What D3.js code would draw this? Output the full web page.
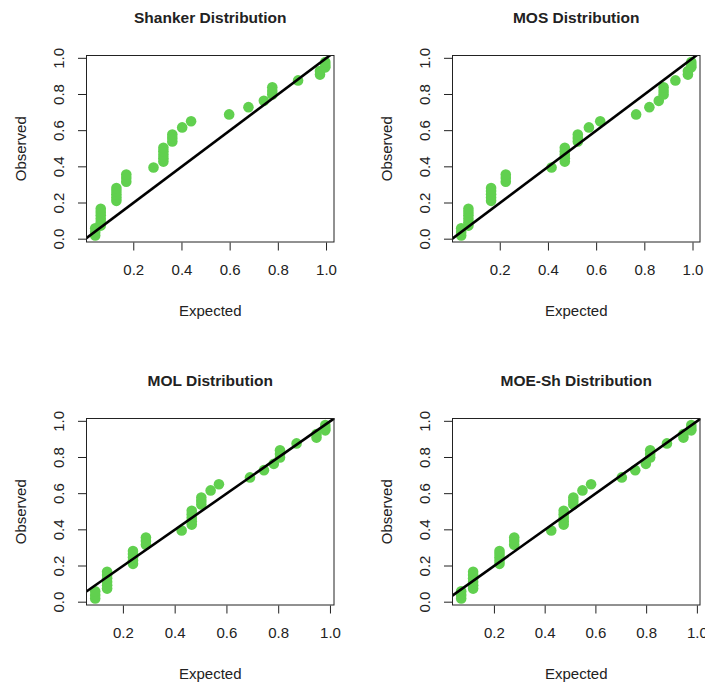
<!DOCTYPE html>
<html>
<head>
<meta charset="utf-8">
<script src="https://cdn.jsdelivr.net/npm/d3@7"></script>
<style>
  html, body { margin: 0; padding: 0; background: #fff; }
  svg { display: block; font-family: "Liberation Sans", Arial, sans-serif; }
</style>
</head>
<body>
<svg id="chart" width="705" height="687"></svg>
<script>
// Observed (empirical) probabilities, shared by all panels
const observed = [
  0.020, 0.040, 0.060,
  0.075, 0.094, 0.113, 0.132, 0.150, 0.168,
  0.212, 0.230, 0.248, 0.266, 0.283,
  0.318, 0.338, 0.357,
  0.396,
  0.429, 0.448, 0.467, 0.486, 0.505,
  0.540, 0.560, 0.579,
  0.618,
  0.652,
  0.690,
  0.730,
  0.765,
  0.800, 0.820, 0.840,
  0.878,
  0.910, 0.930,
  0.950, 0.965, 0.980
];

// Expected probabilities per distribution (same order as observed)
const expectedShanker = [
  0.042, 0.042, 0.042,
  0.065, 0.065, 0.065, 0.065, 0.065, 0.065,
  0.130, 0.130, 0.130, 0.130, 0.130,
  0.171, 0.171, 0.171,
  0.284,
  0.325, 0.325, 0.325, 0.325, 0.325,
  0.362, 0.362, 0.362,
  0.403,
  0.440,
  0.598,
  0.678,
  0.742,
  0.777, 0.777, 0.777,
  0.884,
  0.975, 0.975,
  0.997, 0.997, 0.997
];
const expectedMOS = [
  0.040, 0.040, 0.040,
  0.070, 0.070, 0.070, 0.070, 0.070, 0.070,
  0.164, 0.164, 0.164, 0.164, 0.164,
  0.225, 0.225, 0.225,
  0.415,
  0.470, 0.470, 0.470, 0.470, 0.470,
  0.524, 0.524, 0.524,
  0.570,
  0.617,
  0.766,
  0.821,
  0.860,
  0.880, 0.880, 0.880,
  0.929,
  0.981, 0.981,
  0.995, 0.995, 0.995
];
const expectedMOL = [
  0.093, 0.093, 0.093,
  0.139, 0.139, 0.139, 0.139, 0.139, 0.139,
  0.239, 0.239, 0.239, 0.239, 0.239,
  0.289, 0.289, 0.289,
  0.427,
  0.466, 0.466, 0.466, 0.466, 0.466,
  0.503, 0.503, 0.503,
  0.539,
  0.571,
  0.691,
  0.745,
  0.783,
  0.807, 0.807, 0.807,
  0.871,
  0.948, 0.948,
  0.982, 0.982, 0.982
];
const expectedMOESh = [
  0.071, 0.071, 0.071,
  0.118, 0.118, 0.118, 0.118, 0.118, 0.118,
  0.222, 0.222, 0.222, 0.222, 0.222,
  0.280, 0.280, 0.280,
  0.426,
  0.475, 0.475, 0.475, 0.475, 0.475,
  0.513, 0.513, 0.513,
  0.549,
  0.583,
  0.704,
  0.757,
  0.799,
  0.816, 0.816, 0.816,
  0.882,
  0.947, 0.947,
  0.978, 0.978, 0.978
];

const titles = ["Shanker Distribution", "MOS Distribution", "MOL Distribution", "MOE-Sh Distribution"];
const expectedSets = [expectedShanker, expectedMOS, expectedMOL, expectedMOESh];
const tickValues = [0.0, 0.2, 0.4, 0.6, 0.8, 1.0];
const xLabel = "Expected";
const yLabel = "Observed";

// Layout (2 x 2 panels)
const colLeft = [86, 452];
const rowTop = [55, 418];
const boxW = 248.5, boxH = 187.5;
const green = "#61D04F";
const fontSize = 15;

const svg = d3.select("#chart");
const fmt = d3.format(".1f");

function extendedDomain(vals) {
  const [a, b] = d3.extent(vals);
  const r = b - a;
  return [a - 0.04 * r, b + 0.04 * r];
}

titles.forEach((title, i) => {
  const left = colLeft[i % 2];
  const top = rowTop[Math.floor(i / 2)];
  const exp = expectedSets[i];
  const x = d3.scaleLinear().domain(extendedDomain(exp)).range([left, left + boxW]);
  const y = d3.scaleLinear().domain(extendedDomain(observed)).range([top + boxH, top]);
  const g = svg.append("g");

  const clipId = "clip" + i;
  svg.append("clipPath").attr("id", clipId)
    .append("rect").attr("x", left).attr("y", top).attr("width", boxW).attr("height", boxH);

  // Points
  const pts = g.append("g");
  pts.selectAll("circle").data(observed.map((o, k) => ({ x: exp[k], y: o })))
    .enter().append("circle")
    .attr("cx", d => x(d.x)).attr("cy", d => y(d.y)).attr("r", 5.3)
    .attr("fill", green);

  // Reference line y = x
  const xd = x.domain();
  g.append("line").attr("clip-path", `url(#${clipId})`)
    .attr("x1", x(xd[0])).attr("y1", y(xd[0]))
    .attr("x2", x(xd[1])).attr("y2", y(xd[1]))
    .attr("stroke", "#000").attr("stroke-width", 2.6);

  // Box
  g.append("rect").attr("x", left + 0.5).attr("y", top + 0.5)
    .attr("width", boxW - 1).attr("height", boxH - 1)
    .attr("fill", "none").attr("stroke", "#222").attr("stroke-width", 1);

  // X axis ticks
  const xt = tickValues.filter(v => v >= xd[0] && v <= xd[1]);
  const xAxis = d3.axisBottom(x).tickValues(xt).tickFormat(fmt).tickSize(8).tickPadding(14);
  const gx = g.append("g").attr("transform", `translate(0,${top + boxH})`).call(xAxis);
  gx.select(".domain").remove();
  gx.selectAll("line").attr("stroke", "#222");
  gx.selectAll("text").attr("font-size", fontSize).attr("fill", "#222")
    .attr("font-family", "Liberation Sans, Arial, sans-serif");

  // Y axis ticks (labels rotated like R)
  const yd = y.domain();
  const yt = tickValues.filter(v => v >= yd[0] && v <= yd[1]);
  const gy = g.append("g");
  gy.selectAll("line").data(yt).enter().append("line")
    .attr("x1", left).attr("x2", left - 8)
    .attr("y1", d => y(d)).attr("y2", d => y(d))
    .attr("stroke", "#222");
  gy.selectAll("text").data(yt).enter().append("text")
    .attr("transform", d => `translate(${left - 28},${y(d)}) rotate(-90)`)
    .attr("text-anchor", "middle").attr("dominant-baseline", "central")
    .attr("font-size", fontSize).attr("fill", "#222")
    .text(d => fmt(d));

  // Title
  g.append("text").attr("x", left + boxW / 2).attr("y", top - 37.5)
    .attr("text-anchor", "middle").attr("dominant-baseline", "central")
    .attr("font-size", 15.5).attr("font-weight", "bold").attr("fill", "#222")
    .text(title);

  // Axis labels
  g.append("text").attr("x", left + boxW / 2).attr("y", top + boxH + 68)
    .attr("text-anchor", "middle").attr("dominant-baseline", "central")
    .attr("font-size", fontSize).attr("fill", "#222").text(xLabel);
  g.append("text")
    .attr("transform", `translate(${left - 66},${top + boxH / 2}) rotate(-90)`)
    .attr("text-anchor", "middle").attr("dominant-baseline", "central")
    .attr("font-size", fontSize).attr("fill", "#222").text(yLabel);
});
</script>
</body>
</html>
